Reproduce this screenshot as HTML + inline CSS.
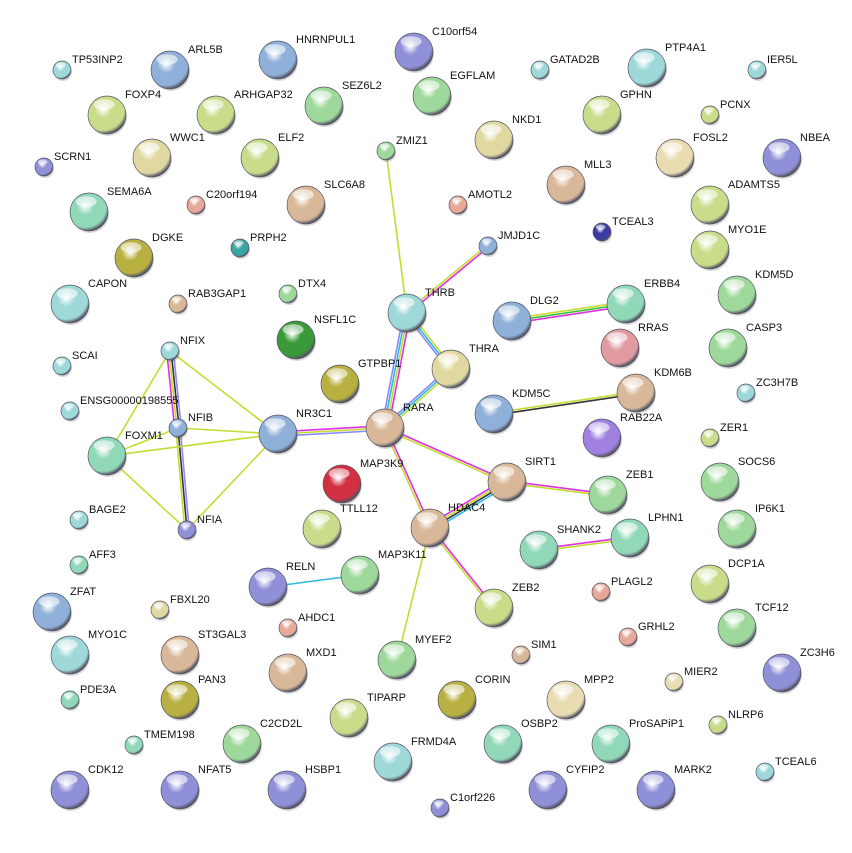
<!DOCTYPE html>
<html><head><meta charset="utf-8"><style>
html,body{margin:0;padding:0;background:#fff;}
svg{display:block;}
text{font-family:"Liberation Sans",sans-serif;font-size:11px;fill:#111;}
</style></head><body>
<svg id="s" width="852" height="853" viewBox="0 0 852 853" xmlns="http://www.w3.org/2000/svg"><defs id="d"></defs><g id="e"></g><g id="n"></g></svg>
<script>
const C={bl:"#8fb0d8",tl:"#9fd8d8",gr:"#9ed89a",yg:"#c8dc8a",ye:"#e0d8a0",tn:"#d8b898",sa:"#e8a898",vi:"#9090d8",pu:"#a080e0",dg:"#3a9a3a",ol:"#b8b040",rd:"#d03040",tg:"#90d8b8",db:"#3a3aa0",dt:"#3aa8a0",pk:"#e09aa0",bg:"#e8dcb0"};
const N=[
["TP53INP2",62,70,9,"tl"],["ARL5B",170,70,19,"bl"],["HNRNPUL1",278,60,19,"bl"],["C10orf54",414,52,19,"vi"],["GATAD2B",540,70,9,"tl"],["PTP4A1",647,68,19,"tl"],["IER5L",757,70,9,"tl"],
["FOXP4",107,115,19,"yg"],["ARHGAP32",216,115,19,"yg"],["SEZ6L2",324,106,19,"gr"],["EGFLAM",432,96,19,"gr"],["NKD1",494,140,19,"ye"],["GPHN",602,115,19,"yg"],["PCNX",710,115,9,"yg"],
["WWC1",152,158,19,"ye"],["ELF2",260,158,19,"yg"],["ZMIZ1",386,151,9,"gr"],["FOSL2",675,158,19,"bg"],["NBEA",782,158,19,"vi"],["SCRN1",44,167,9,"vi"],["MLL3",566,185,19,"tn"],
["SEMA6A",89,212,19,"tg"],["C20orf194",196,205,9,"sa"],["SLC6A8",306,205,19,"tn"],["AMOTL2",458,205,9,"sa"],["ADAMTS5",710,205,19,"yg"],["TCEAL3",602,232,9,"db"],
["DGKE",134,258,19,"ol"],["PRPH2",240,248,9,"dt"],["JMJD1C",488,246,9,"bl"],["MYO1E",710,250,19,"yg"],["CAPON",70,304,19,"tl"],["RAB3GAP1",178,304,9,"tn"],["DTX4",288,294,9,"gr"],
["KDM5D",737,295,19,"gr"],["THRB",407,313,19,"tl"],["ERBB4",626,304,19,"tg"],["DLG2",512,321,19,"bl"],["NSFL1C",296,340,19,"dg"],["CASP3",728,348,19,"gr"],["NFIX",170,351,9,"tl"],["SCAI",62,366,9,"tl"],
["RRAS",620,348,19,"pk"],["THRA",451,369,19,"ye"],["GTPBP1",340,384,19,"ol"],["KDM6B",636,393,19,"tn"],["ZC3H7B",746,393,9,"tl"],["ENSG00000198555",70,411,9,"tl"],["NFIB",178,428,9,"bl"],
["RARA",385,428,19,"tn"],["KDM5C",494,414,19,"bl"],["NR3C1",278,434,19,"bl"],["FOXM1",107,456,19,"tg"],["MAP3K9",342,484,19,"rd"],["RAB22A",602,438,19,"pu"],["ZER1",710,438,9,"yg"],
["SIRT1",507,482,19,"tn"],["ZEB1",608,495,19,"gr"],["SOCS6",720,482,19,"gr"],["HDAC4",430,528,19,"tn"],["TTLL12",322,529,19,"yg"],["NFIA",187,530,9,"vi"],["BAGE2",79,520,9,"tl"],
["IP6K1",737,529,19,"gr"],["SHANK2",539,550,19,"tg"],["LPHN1",630,538,19,"tg"],["AFF3",79,565,9,"tg"],["MAP3K11",360,575,19,"gr"],["RELN",268,587,19,"vi"],["DCP1A",710,584,19,"yg"],
["ZFAT",52,612,19,"bl"],["FBXL20",160,610,9,"ye"],["ZEB2",494,608,19,"yg"],["PLAGL2",601,592,9,"sa"],["TCF12",737,628,19,"gr"],["AHDC1",288,628,9,"sa"],["GRHL2",628,637,9,"sa"],
["MYO1C",70,655,19,"tl"],["ST3GAL3",180,655,19,"tn"],["MYEF2",397,660,19,"gr"],["SIM1",521,655,9,"tn"],["ZC3H6",782,673,19,"vi"],["MXD1",288,673,19,"tn"],["MIER2",674,682,9,"bg"],
["PDE3A",70,700,9,"tg"],["PAN3",180,700,19,"ol"],["CORIN",457,700,19,"ol"],["MPP2",566,700,19,"bg"],["TIPARP",349,718,19,"yg"],["NLRP6",718,725,9,"yg"],["C2CD2L",242,744,19,"gr"],
["TMEM198",134,745,9,"tg"],["OSBP2",503,744,19,"tg"],["ProSAPiP1",611,744,19,"tg"],["FRMD4A",393,762,19,"tl"],["CDK12",70,790,19,"vi"],["NFAT5",180,790,19,"vi"],["HSBP1",287,790,19,"vi"],
["CYFIP2",548,790,19,"vi"],["MARK2",656,790,19,"vi"],["TCEAL6",765,772,9,"tl"],["C1orf226",440,808,9,"vi"]];
const P={};N.forEach(n=>P[n[0]]=n);
const Y="#c4dc30",M="#e030e0",B="#8888ff",K="#333",Cy="#30b8e0",G="#30c030";
const E=[["ZMIZ1","THRB",[Y]],["JMJD1C","THRB",[M,Y]],["THRB","RARA",[M,Y,Cy,B]],["THRB","THRA",[Y,Cy,B]],["DLG2","ERBB4",[Y,G,M]],["KDM5C","KDM6B",[Y,K]],["THRA","RARA",[Y,Cy,B]],
["NR3C1","RARA",[M,Y,B]],["RARA","SIRT1",[M,Y]],["RARA","HDAC4",[M,Y]],["SIRT1","ZEB1",[M,Y]],["SIRT1","HDAC4",[Cy,K,Y,M]],["HDAC4","ZEB2",[M,Y]],["HDAC4","MYEF2",[Y]],["SHANK2","LPHN1",[M,Y]],
["RELN","MAP3K11",[Cy]],["NFIX","NFIB",[B,K,Y,M]],["NFIB","NFIA",[B,K,Y]],["NFIX","FOXM1",[Y]],["NFIX","NR3C1",[Y]],["NFIB","NR3C1",[Y]],["FOXM1","NR3C1",[Y]],["FOXM1","NFIB",[Y]],["FOXM1","NFIA",[Y]],["NFIA","NR3C1",[Y]]];
const ns="http://www.w3.org/2000/svg";
function el(t,a,p){const e=document.createElementNS(ns,t);for(const k in a)e.setAttribute(k,a[k]);p.appendChild(e);return e;}
const d=document.getElementById("d"),eg=document.getElementById("e"),ng=document.getElementById("n");
for(const k in C){const g=el("radialGradient",{id:"g"+k,cx:"0.4",cy:"0.35",r:"0.65"},d);
el("stop",{"offset":"0","stop-color":"#ffffff"},g);el("stop",{"offset":"0.35","stop-color":C[k]},g);el("stop",{"offset":"0.85","stop-color":C[k]},g);el("stop",{"offset":"1","stop-color":"#556"},g);}
E.forEach(([a,b,cs])=>{const A=P[a],Bn=P[b];const dx=Bn[1]-A[1],dy=Bn[2]-A[2],L=Math.hypot(dx,dy),ox=-dy/L,oy=dx/L;
cs.forEach((c,i)=>{const o=(i-(cs.length-1)/2)*2.2;el("line",{x1:A[1]+ox*o,y1:A[2]+oy*o,x2:Bn[1]+ox*o,y2:Bn[2]+oy*o,stroke:c,"stroke-width":1.6},eg);});});
N.forEach(([t,x,y,r,c])=>{el("circle",{cx:x+1,cy:y+2,r:r,fill:"#000",opacity:0.15},ng);
el("circle",{cx:x,cy:y,r:r,fill:"url(#g"+c+")",stroke:"#556","stroke-width":0.7},ng);
el("ellipse",{cx:x-r*0.15,cy:y-r*0.55,rx:r*0.55,ry:r*0.28,fill:"#fff",opacity:0.6},ng);
const tx=el("text",{x:x+(r>10?r-1:r+1),y:y-r+2},ng);tx.textContent=t;});
</script>
</body></html>
